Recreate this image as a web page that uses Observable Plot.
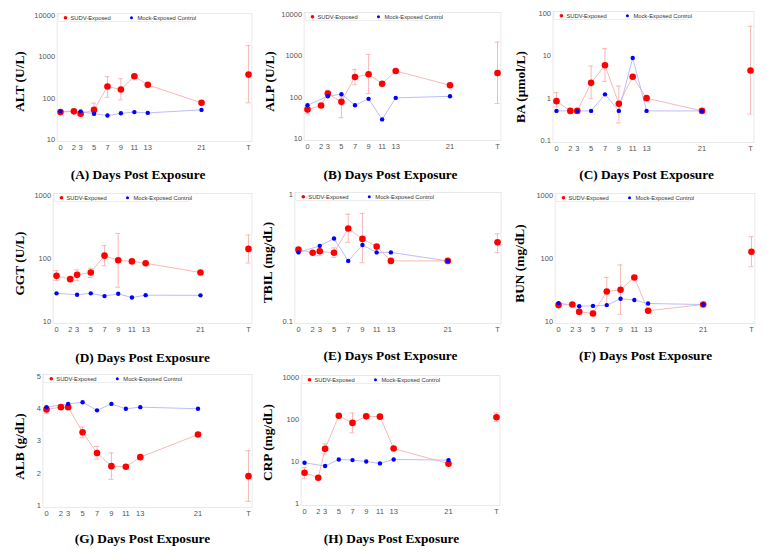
<!DOCTYPE html>
<html><head><meta charset="utf-8">
<script src="https://cdn.jsdelivr.net/npm/d3@7"></script>
<script src="https://cdn.jsdelivr.net/npm/@observablehq/plot@0.6"></script>
<style>
body{margin:0;background:#fff;}
#fig{position:relative;width:767px;height:555px;overflow:hidden;background:#fff;}
.panel{position:absolute;}
.panel svg{overflow:visible;}
</style></head><body><div id="fig"></div>
<script>
// ---- data ----
const days = [0, 2, 3, 5, 7, 9, 11, 13, 21];
const mockDays = [0, 3, 5, 7, 9, 11, 13, 21];
const terminalLabel = "T";
const seriesNames = ["SUDV-Exposed", "Mock-Exposed Control"];

const altSUDV   = [46, 48, 42, 52, 191, 162, 340, 210, 77];
const altSUDVLo = [null, null, null, 38, 105, 91, null, null, null];
const altSUDVHi = [null, null, null, 76, 333, 294, null, null, null];
const altTerm   = [372, 77, 1870];
const altMock   = [48, 48, 42, 38, 43, 46, 44, 52];

const alpSUDV   = [50, 63, 122, 77, 308, 357, 212, 430, 194];
const alpSUDVLo = [40, null, 101, 32, 200, 122, null, null, null];
const alpSUDVHi = [62, null, 146, 101, 470, 1083, null, null, null];
const alpTerm   = [385, 70, 2150];
const alpMock   = [64, 105, 118, 64, 91, 29, 96, 105];

const baSUDV   = [0.85, 0.5, 0.5, 2.3, 6.0, 0.74, 3.2, 1.0, 0.5];
const baSUDVLo = [0.62, null, null, 0.97, 2.5, 0.26, null, null, null];
const baSUDVHi = [1.35, null, null, 5.75, 14.8, 1.94, null, null, null];
const baTerm   = [4.5, 0.42, 50];
const baMock   = [0.5, 0.5, 0.5, 1.23, 0.5, 8.9, 0.5, 0.5];

const ggtSUDV   = [53, 47, 55, 60, 111, 94, 90, 84, 60];
const ggtSUDVLo = [45, null, 45, 50, 77, 35, null, null, null];
const ggtSUDVHi = [64, null, 66, 70, 160, 250, null, null, null];
const ggtTerm   = [142, 85, 236];
const ggtMock   = [28, 26.6, 28, 25.3, 27.5, 24, 26.2, 26];

const tbilSUDV   = [0.368, 0.348, 0.357, 0.348, 0.54, 0.447, 0.389, 0.3, 0.3];
const tbilSUDVLo = [null, null, 0.33, 0.32, 0.42, 0.29, null, null, null];
const tbilSUDVHi = [null, null, 0.38, 0.38, 0.70, 0.71, null, null, null];
const tbilTerm   = [0.42, 0.35, 0.49];
const tbilMock   = [0.35, 0.394, 0.45, 0.3, 0.4, 0.35, 0.35, 0.3];

const bunSUDV   = [18.2, 18.6, 14.3, 13.4, 30, 32, 50, 14.8, 18.6];
const bunSUDVLo = [null, null, 13, 12.5, 17.7, 13, null, null, null];
const bunSUDVHi = [null, null, 15.3, 14.5, 50, 79, null, null, null];
const bunTerm   = [128, 74, 222];
const bunMock   = [19.6, 17.5, 17.7, 18.2, 23, 21.9, 19.3, 18.6];

const albSUDV   = [3.98, 4.05, 4.05, 3.27, 2.63, 2.22, 2.2, 2.5, 3.2];
const albSUDVLo = [3.86, null, null, 3.1, 2.44, 1.81, null, null, null];
const albSUDVHi = [4.05, null, null, 3.43, 2.83, 2.63, null, null, null];
const albTerm   = [1.91, 1.13, 2.7];
const albMock   = [4.05, 4.15, 4.2, 3.95, 4.15, 4.0, 4.05, 4.0];

const crpSUDV   = [5.4, 4.1, 20, 123, 83, 119, 117, 20.4, 8.85];
const crpSUDVLo = [3.9, null, 15, null, 48, null, null, null, null];
const crpSUDVHi = [7.1, null, 26.4, null, 142, null, null, null, null];
const crpTerm   = [113, 90, 142];
const crpMock   = [9.35, 7.8, 11.2, 10.8, 10, 9.0, 11.2, 10.8];

// ---- layout / style ----
const TERMINAL_POS = 28;
const xTicks = [...days, TERMINAL_POS];
const RED = "#ff0000", BLUE = "#0000ff";
const RED_LIGHT = "#f7b0b0", BLUE_LIGHT = "#b6b6f7";
const SERIF = "'Liberation Serif', 'Times New Roman', serif";
const SANS = "'Liberation Sans', Arial, sans-serif";

const panels = [
  {ylabel:"ALT (U/L)", xlabel:"(A) Days Post Exposure", type:"log", domain:[10,10000], ticks:[10,100,1000,10000],
   s:altSUDV, lo:altSUDVLo, hi:altSUDVHi, t:altTerm, m:altMock,
   left:0, top:0, w:255, h:180, ml:56.6, mr:3.6, mt:13, mb:39, xlabDx:-16.5, xlabDy:33, ylabDx:-37.6, ylabDy:4},
  {ylabel:"ALP (U/L)", xlabel:"(B) Days Post Exposure", type:"log", domain:[10,10000], ticks:[10,100,1000,10000],
   s:alpSUDV, lo:alpSUDVLo, hi:alpSUDVHi, t:alpTerm, m:alpMock,
   left:255, top:0, w:255, h:180, ml:48.6, mr:9.6, mt:12, mb:40, xlabDx:-12, xlabDy:34, ylabDx:-34.6, ylabDy:5},
  {ylabel:"BA (μmol/L)", xlabel:"(C) Days Post Exposure", type:"log", domain:[0.1,100], ticks:[0.1,1,10,100],
   s:baSUDV, lo:baSUDVLo, hi:baSUDVHi, t:baTerm, m:baMock,
   left:510, top:0, w:257, h:180, ml:42.5, mr:13.5, mt:11, mb:38, xlabDx:-7, xlabDy:32, ylabDx:-32.5, ylabDy:10},
  {ylabel:"GGT (U/L)", xlabel:"(D) Days Post Exposure", type:"log", domain:[10,1000], ticks:[10,100,1000],
   s:ggtSUDV, lo:ggtSUDVLo, hi:ggtSUDVHi, t:ggtTerm, m:ggtMock,
   left:0, top:180, w:255, h:180, ml:52.6, mr:3.6, mt:13, mb:37, xlabDx:-10, xlabDy:34, ylabDx:-33.6, ylabDy:5},
  {ylabel:"TBIL (mg/dL)", xlabel:"(E) Days Post Exposure", type:"log", domain:[0.1,1], ticks:[0.1,1],
   s:tbilSUDV, lo:tbilSUDVLo, hi:tbilSUDVHi, t:tbilTerm, m:tbilMock,
   left:255, top:180, w:255, h:180, ml:39.4, mr:9.4, mt:12, mb:37, xlabDx:-7.5, xlabDy:32, ylabDx:-27.4, ylabDy:4.5},
  {ylabel:"BUN (mg/dL)", xlabel:"(F) Days Post Exposure", type:"log", domain:[10,1000], ticks:[10,100,1000],
   s:bunSUDV, lo:bunSUDVLo, hi:bunSUDVHi, t:bunTerm, m:bunMock,
   left:510, top:180, w:257, h:180, ml:44.6, mr:12.6, mt:13, mb:37, xlabDx:-9.5, xlabDy:32, ylabDx:-35.6, ylabDy:5},
  {ylabel:"ALB (g/dL)", xlabel:"(G) Days Post Exposure", type:"linear", domain:[1,5], ticks:[1,2,3,4,5],
   s:albSUDV, lo:albSUDVLo, hi:albSUDVHi, t:albTerm, m:albMock,
   left:0, top:360, w:255, h:195, ml:42.4, mr:3.4, mt:14, mb:48, xlabDx:-5, xlabDy:31, ylabDx:-23.4, ylabDy:5.5},
  {ylabel:"CRP (mg/dL)", xlabel:"(H) Days Post Exposure", type:"log", domain:[1,1000], ticks:[1,10,100,1000],
   s:crpSUDV, lo:crpSUDVLo, hi:crpSUDVHi, t:crpTerm, m:crpMock,
   left:255, top:360, w:255, h:195, ml:45.6, mr:10.6, mt:15, mb:50, xlabDx:-9, xlabDy:33, ylabDx:-33.6, ylabDy:2}
];

function makePanel(c) {
  const red = days.map((d, i) => ({day: d, v: c.s[i], lo: c.lo[i], hi: c.hi[i]}));
  const term = {day: TERMINAL_POS, v: c.t[0], lo: c.t[1], hi: c.t[2]};
  const err = red.filter(d => d.lo != null).concat([term]);
  const redPts = red.concat([term]);
  const blue = mockDays.map((d, i) => ({day: d, v: c.m[i]}));
  const legendBox = () => {
    const g = d3.create("svg:g");
    g.append("rect").attr("x", c.ml + 1.5).attr("y", c.mt + 0.5).attr("width", 134).attr("height", 8)
      .attr("fill", "#fff").attr("stroke", "#e2e2e2").attr("stroke-width", 0.6);
    return g.node();
  };
  const capW = 0.35;
  const legendText = {frameAnchor: "top-left", dy: 4.3, textAnchor: "start", lineAnchor: "middle",
    fontSize: 5.8, fill: "#333", fontFamily: SANS};
  return Plot.plot({
    width: c.w, height: c.h,
    marginLeft: c.ml, marginRight: c.mr, marginTop: c.mt, marginBottom: c.mb,
    style: {fontFamily: SANS, fontSize: "7.5px", color: "#555", background: "transparent", overflow: "visible"},
    x: {domain: [-0.5, 28.5], ticks: xTicks, tickFormat: d => d === TERMINAL_POS ? terminalLabel : String(d),
        tickSize: 0, tickPadding: 3, label: null},
    y: {type: c.type, domain: c.domain, ticks: c.ticks, tickFormat: d => String(d),
        tickSize: 0, tickPadding: 2, insetTop: 2, insetBottom: 2, label: null},
    marks: [
      Plot.frame({stroke: "#e4e4e4", strokeWidth: 0.8}),
      legendBox,
      Plot.dot([seriesNames[0]], {frameAnchor: "top-left", dx: 8.4, dy: 4.3, r: 1.8, fill: RED}),
      Plot.text([seriesNames[0]], {...legendText, text: d => d, dx: 13.4}),
      Plot.dot([seriesNames[1]], {frameAnchor: "top-left", dx: 74.4, dy: 4.3, r: 1.5, fill: BLUE}),
      Plot.text([seriesNames[1]], {...legendText, text: d => d, dx: 80.4}),
      Plot.ruleX(err, {x: "day", y1: "lo", y2: "hi", stroke: RED_LIGHT, strokeWidth: 0.9}),
      Plot.ruleY(err, {y: "hi", x1: d => d.day - capW, x2: d => d.day + capW, stroke: RED_LIGHT, strokeWidth: 0.9}),
      Plot.ruleY(err, {y: "lo", x1: d => d.day - capW, x2: d => d.day + capW, stroke: RED_LIGHT, strokeWidth: 0.9}),
      Plot.line(red, {x: "day", y: "v", stroke: RED_LIGHT, strokeWidth: 0.9}),
      Plot.line(blue, {x: "day", y: "v", stroke: BLUE_LIGHT, strokeWidth: 0.9}),
      Plot.dot(redPts, {x: "day", y: "v", r: 3.3, fill: RED}),
      Plot.dot(blue, {x: "day", y: "v", r: 2.2, fill: BLUE}),
      Plot.text([c.ylabel], {text: d => d, frameAnchor: "left", dx: c.ylabDx, dy: c.ylabDy, rotate: -90,
        textAnchor: "middle", lineAnchor: "middle",
        fontFamily: SERIF, fontWeight: "bold", fontSize: 13.4, fill: "#000"}),
      Plot.text([c.xlabel], {text: d => d, frameAnchor: "bottom", dx: c.xlabDx, dy: c.xlabDy,
        textAnchor: "middle", lineAnchor: "middle",
        fontFamily: SERIF, fontWeight: "bold", fontSize: 13.3, fill: "#000"})
    ]
  });
}

const fig = document.getElementById("fig");
for (const c of panels) {
  const div = document.createElement("div");
  div.className = "panel";
  div.style.left = c.left + "px";
  div.style.top = c.top + "px";
  div.appendChild(makePanel(c));
  fig.appendChild(div);
}
</script></body></html>
